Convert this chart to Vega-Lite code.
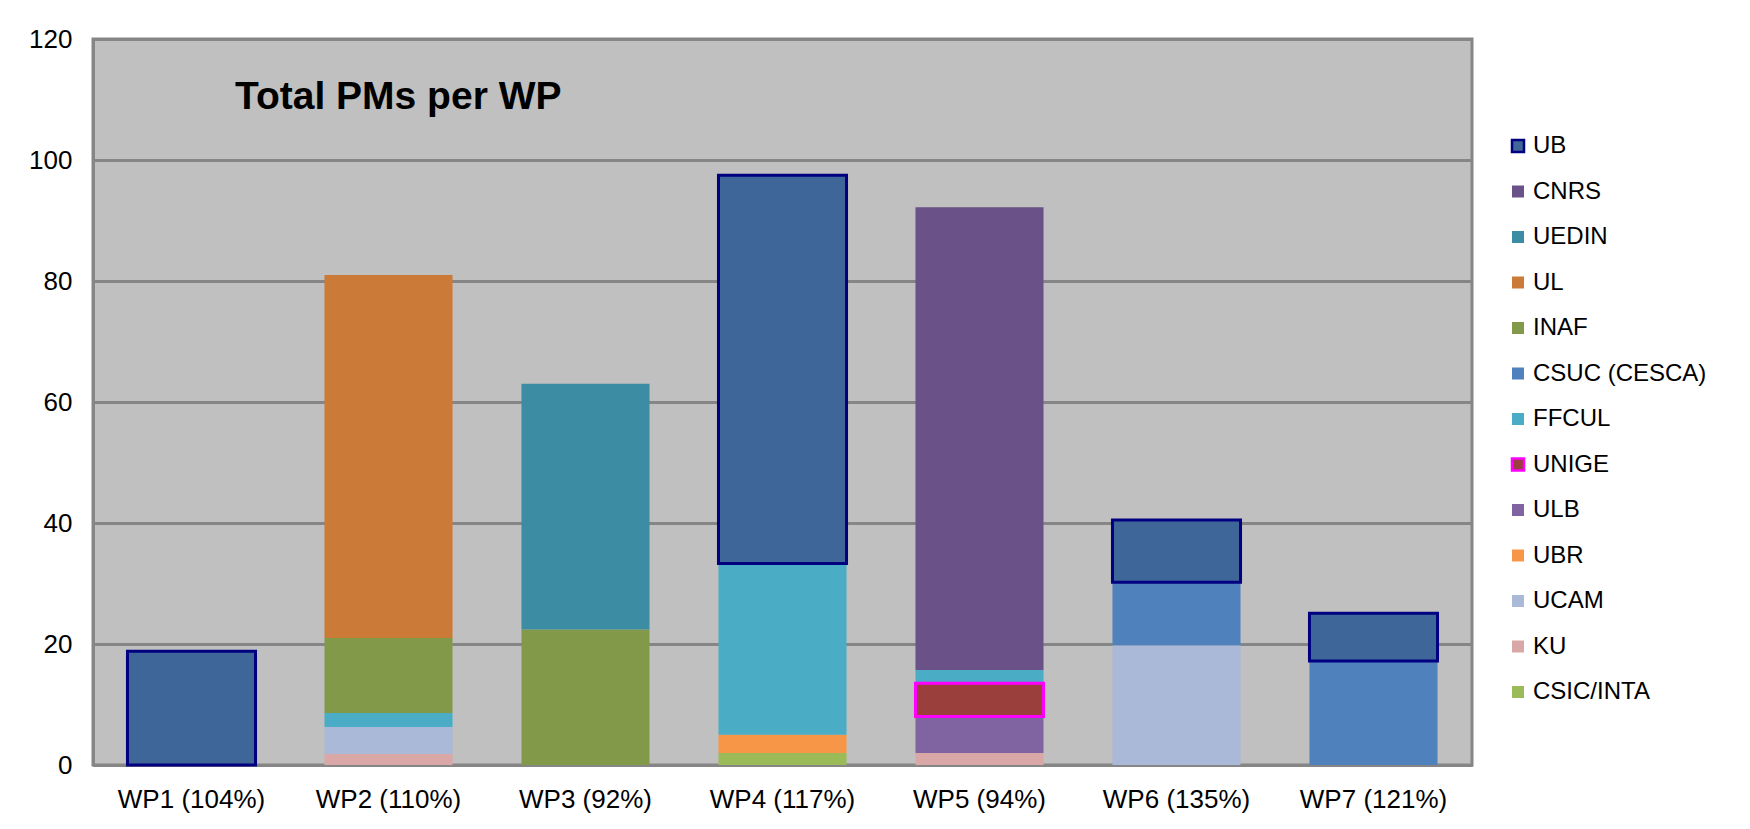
{
  "$schema": "https://vega.github.io/schema/vega-lite/v6.json",
  "width": 1379,
  "height": 726,
  "padding": {"top": 26, "left": 5, "right": 5, "bottom": 5},
  "background": "white",
  "title": {
    "text": "Total PMs per WP",
    "anchor": "start",
    "frame": "group",
    "orient": "top",
    "baseline": "alphabetic",
    "offset": 0,
    "dx": 142,
    "dy": 122,
    "font": "Liberation Sans",
    "fontSize": 39,
    "fontWeight": "bold",
    "color": "black"
  },
  "data": {
    "values": [
      {"wp": "WP1 (104%)", "org": "UB", "pm": 18.8},
      {"wp": "WP2 (110%)", "org": "KU", "pm": 1.8},
      {"wp": "WP2 (110%)", "org": "UCAM", "pm": 4.5},
      {"wp": "WP2 (110%)", "org": "FFCUL", "pm": 2.3},
      {"wp": "WP2 (110%)", "org": "INAF", "pm": 12.4},
      {"wp": "WP2 (110%)", "org": "UL", "pm": 60.0},
      {"wp": "WP3 (92%)", "org": "INAF", "pm": 22.4},
      {"wp": "WP3 (92%)", "org": "UEDIN", "pm": 40.6},
      {"wp": "WP4 (117%)", "org": "CSIC/INTA", "pm": 2.0},
      {"wp": "WP4 (117%)", "org": "UBR", "pm": 3.0},
      {"wp": "WP4 (117%)", "org": "FFCUL", "pm": 28.3},
      {"wp": "WP4 (117%)", "org": "UB", "pm": 64.2},
      {"wp": "WP5 (94%)", "org": "KU", "pm": 2.0},
      {"wp": "WP5 (94%)", "org": "ULB", "pm": 6.0},
      {"wp": "WP5 (94%)", "org": "UNIGE", "pm": 5.5},
      {"wp": "WP5 (94%)", "org": "FFCUL", "pm": 2.2},
      {"wp": "WP5 (94%)", "org": "CNRS", "pm": 76.5},
      {"wp": "WP6 (135%)", "org": "UCAM", "pm": 19.8},
      {"wp": "WP6 (135%)", "org": "CSUC (CESCA)", "pm": 10.4},
      {"wp": "WP6 (135%)", "org": "UB", "pm": 10.3},
      {"wp": "WP7 (121%)", "org": "CSUC (CESCA)", "pm": 17.2},
      {"wp": "WP7 (121%)", "org": "UB", "pm": 7.9}
    ]
  },
  "transform": [
    {"calculate": "indexof(['CSIC/INTA','KU','UCAM','UBR','ULB','UNIGE','FFCUL','CSUC (CESCA)','INAF','UL','UEDIN','CNRS','UB'], datum.org)", "as": "rank"},
    {"stack": "pm", "groupby": ["wp"], "sort": [{"field": "rank", "order": "ascending"}], "as": ["y0", "y1"]}
  ],
  "encoding": {
    "x": {
      "field": "wp",
      "type": "nominal",
      "sort": null,
      "scale": {"paddingInner": 0.35, "paddingOuter": 0.175},
      "axis": {
        "title": null,
        "labelAngle": 0,
        "ticks": false,
        "labelPadding": 21,
        "labelFont": "Liberation Sans",
        "labelFontSize": 26,
        "labelColor": "black",
        "domainColor": "#868686",
        "domainWidth": 3,
        "grid": false
      }
    },
    "y": {
      "field": "y0",
      "type": "quantitative",
      "scale": {"domain": [0, 120], "nice": false},
      "axis": {
        "title": null,
        "values": [0, 20, 40, 60, 80, 100, 120],
        "ticks": false,
        "labelPadding": 21,
        "labelFont": "Liberation Sans",
        "labelFontSize": 26,
        "labelColor": "black",
        "domainColor": "#868686",
        "domainWidth": 3,
        "gridColor": "#868686",
        "gridWidth": 3,
        "minExtent": 88,
        "maxExtent": 88
      }
    },
    "y2": {"field": "y1"}
  },
  "layer": [
    {
      "mark": {"type": "bar", "strokeWidth": 0},
      "encoding": {
        "color": {
          "field": "org",
          "type": "nominal",
          "scale": {
            "domain": ["UB", "CNRS", "UEDIN", "UL", "INAF", "CSUC (CESCA)", "FFCUL", "UNIGE", "ULB", "UBR", "UCAM", "KU", "CSIC/INTA"],
            "range": ["#3F6699", "#6A5187", "#3C8CA3", "#CC7A38", "#82994A", "#4F81BD", "#4BACC6", "#9B3F3C", "#8064A2", "#F79646", "#AAB9D7", "#D9A8A6", "#9BBB59"]
          },
          "legend": {
            "title": null,
            "orient": "none",
            "legendX": 1413,
            "legendY": 95,
            "padding": 0,
            "symbolType": "square",
            "symbolSize": 144,
            "symbolOpacity": 1,
            "labelFont": "Liberation Sans",
            "labelFontSize": 24,
            "labelColor": "black",
            "labelOffset": 3,
            "labelLimit": 400,
            "rowPadding": 21.5,
            "encode": {
              "symbols": {
                "update": {
                  "stroke": {"signal": "datum.value === 'UB' ? '#000080' : (datum.value === 'UNIGE' ? '#FF00FF' : 'transparent')"},
                  "strokeWidth": {"value": 2.5}
                }
              }
            }
          }
        }
      }
    },
    {
      "transform": [{"filter": {"field": "org", "oneOf": ["UB", "UNIGE"]}}],
      "mark": {"type": "bar", "fill": "transparent", "strokeWidth": 3, "strokeJoin": "miter"},
      "encoding": {
        "stroke": {
          "condition": {"test": "datum.org === 'UB'", "value": "#000080"},
          "value": "#FF00FF"
        }
      }
    }
  ],
  "config": {
    "view": {"fill": "#C0C0C0", "stroke": "#868686", "strokeWidth": 3},
    "font": "Liberation Sans"
  }
}
